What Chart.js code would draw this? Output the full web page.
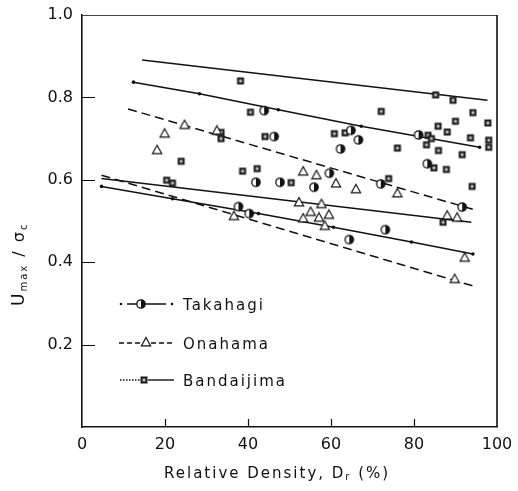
<!DOCTYPE html>
<html>
<head>
<meta charset="utf-8">
<script src="https://cdn.jsdelivr.net/npm/chart.js@4.4.1/dist/chart.umd.min.js"></script>
<style>
    html, body { margin: 0; padding: 0; background: #fff; }
</style>
</head>
<body>
<canvas id="densityChart" width="518" height="491"></canvas>
<script>
// Axis ticks
const xTicks = [0, 20, 40, 60, 80, 100];
const yTicks = [0.2, 0.4, 0.6, 0.8, 1.0];

// Takahagi (half-filled circles)
const takahagiX = [43.9, 46.3, 41.9, 47.7, 55.9, 59.6, 64.8, 66.6, 62.3, 37.7, 40.3, 64.4, 81.1, 83.2, 72.0, 91.6, 73.1];
const takahagiY = [0.768, 0.705, 0.594, 0.594, 0.582, 0.616, 0.720, 0.697, 0.675, 0.535, 0.518, 0.455, 0.709, 0.639, 0.590, 0.534, 0.479];

// Onahama (open triangles)
const onahamaX = [24.7, 19.9, 18.1, 32.5, 53.3, 56.5, 61.2, 66.0, 52.3, 57.7, 55.1, 59.5, 53.3, 57.1, 58.5, 36.6, 76.0, 88.0, 90.4, 92.2, 89.8];
const onahamaY = [0.734, 0.713, 0.673, 0.720, 0.621, 0.612, 0.592, 0.578, 0.546, 0.542, 0.523, 0.516, 0.507, 0.509, 0.489, 0.513, 0.568, 0.514, 0.509, 0.412, 0.360];

// Bandaijima (patterned squares)
const bandaijimaX = [23.9, 20.4, 21.8, 33.5, 33.5, 38.2, 40.6, 44.1, 38.7, 42.2, 50.4, 60.8, 63.4,
    85.2, 89.4, 72.1, 94.2, 97.8, 90.0, 85.8, 88.0, 83.4, 84.2, 83.0, 93.6, 98.0, 98.0, 76.0, 85.9, 91.6, 84.8, 87.8, 94.0, 73.9, 87.0];
const bandaijimaY = [0.645, 0.599, 0.592, 0.715, 0.700, 0.840, 0.764, 0.705, 0.621, 0.627, 0.593, 0.712, 0.714,
    0.806, 0.793, 0.766, 0.763, 0.738, 0.742, 0.730, 0.716, 0.708, 0.700, 0.685, 0.702, 0.696, 0.679, 0.677, 0.671, 0.661, 0.629, 0.625, 0.584, 0.603, 0.497];

// Fitted lines (end points, Takahagi also with its marked dots)
const takahagiUpperX = [12.4, 28.3, 47.3, 67.3, 95.8];
const takahagiUpperY = [0.837, 0.809, 0.770, 0.730, 0.679];
const takahagiLowerX = [4.7, 21.8, 42.5, 60.6, 79.4, 94.2];
const takahagiLowerY = [0.584, 0.554, 0.518, 0.485, 0.449, 0.420];
const onahamaUpperX = [11.1, 95.0];
const onahamaUpperY = [0.772, 0.526];
const onahamaLowerX = [4.7, 95.0];
const onahamaLowerY = [0.611, 0.340];
const bandaijimaUpperX = [14.5, 97.7];
const bandaijimaUpperY = [0.891, 0.793];
const bandaijimaLowerX = [4.7, 93.8];
const bandaijimaLowerY = [0.603, 0.497];

const INK = '#111';
const FONT = '"DejaVu Sans", sans-serif';

function toPoints(xs, ys) {
    return xs.map((x, i) => ({ x: x, y: ys[i] }));
}

// Marker images
function halfCircle() {
    const c = document.createElement('canvas');
    c.width = 12; c.height = 12;
    const g = c.getContext('2d');
    g.beginPath();
    g.arc(6, 6, 4.2, 0, Math.PI * 2);
    g.fillStyle = '#fff';
    g.fill();
    g.beginPath();
    g.arc(6, 6, 4.2, -Math.PI / 2, Math.PI / 2);
    g.closePath();
    g.fillStyle = INK;
    g.fill();
    g.beginPath();
    g.arc(6, 6, 4.2, 0, Math.PI * 2);
    g.lineWidth = 1.3;
    g.strokeStyle = INK;
    g.stroke();
    return c;
}

function openTriangle() {
    const c = document.createElement('canvas');
    c.width = 12; c.height = 12;
    const g = c.getContext('2d');
    g.beginPath();
    g.moveTo(6, 1.5);
    g.lineTo(10.6, 9.8);
    g.lineTo(1.4, 9.8);
    g.closePath();
    g.fillStyle = '#fff';
    g.fill();
    g.lineWidth = 1.2;
    g.strokeStyle = INK;
    g.stroke();
    return c;
}

function hatchedSquare() {
    const c = document.createElement('canvas');
    c.width = 10; c.height = 10;
    const g = c.getContext('2d');
    g.fillStyle = '#1a1a1a';
    g.fillRect(1.5, 1.5, 7, 7);
    g.fillStyle = '#aaa';
    g.fillRect(3.5, 3.5, 3, 3);
    g.fillStyle = '#fff';
    g.fillRect(4.5, 4.5, 1, 1);
    return c;
}

const circleImg = halfCircle();
const triangleImg = openTriangle();
const squareImg = hatchedSquare();

function lineSet(xs, ys, dash, dots) {
    return {
        data: toPoints(xs, ys),
        showLine: true,
        borderColor: INK,
        borderWidth: 1.5,
        borderDash: dash,
        pointRadius: dots ? 1.8 : 0,
        pointBackgroundColor: INK,
        pointBorderWidth: 0,
        order: 2
    };
}

function markerSet(label, xs, ys, img) {
    return {
        label: label,
        data: toPoints(xs, ys),
        showLine: false,
        pointStyle: img,
        pointRadius: 5,
        order: 1
    };
}

// Inward ticks, box frame, legend and axis titles
const framePlugin = {
    id: 'frame',
    afterDatasetsDraw(chart) {
        const ctx = chart.ctx;
        const a = chart.chartArea;
        const xs = chart.scales.x;
        const ys = chart.scales.y;
        ctx.save();
        ctx.strokeStyle = INK;
        ctx.lineWidth = 1.2;
        ctx.beginPath();
        yTicks.slice(0, 4).forEach(v => {
            const py = Math.round(ys.getPixelForValue(v)) + 0.5;
            ctx.moveTo(a.left, py);
            ctx.lineTo(a.left + 13, py);
        });
        xTicks.slice(1, 5).forEach(v => {
            const px = Math.round(xs.getPixelForValue(v)) + 0.5;
            ctx.moveTo(px, a.bottom);
            ctx.lineTo(px, a.bottom - 8);
        });
        ctx.stroke();
        // top and right border
        ctx.lineWidth = 1;
        ctx.strokeStyle = '#444';
        ctx.beginPath();
        ctx.moveTo(a.left, a.top + 0.5);
        ctx.lineTo(a.right, a.top + 0.5);
        ctx.stroke();
        ctx.lineWidth = 1.6;
        ctx.strokeStyle = INK;
        ctx.beginPath();
        ctx.moveTo(a.right, a.top);
        ctx.lineTo(a.right, a.bottom);
        ctx.stroke();
        ctx.restore();
    },
    afterDraw(chart) {
        const ctx = chart.ctx;
        ctx.save();
        ctx.fillStyle = INK;
        ctx.strokeStyle = INK;
        ctx.textBaseline = 'alphabetic';
        ctx.letterSpacing = '2px';

        // Legend
        const rows = [
            { text: 'Takahagi', y: 304 },
            { text: 'Onahama', y: 343 },
            { text: 'Bandaijima', y: 380 }
        ];
        ctx.lineWidth = 1.4;
        // Takahagi sample
        let y = rows[0].y;
        ctx.beginPath();
        ctx.moveTo(127, y); ctx.lineTo(166, y);
        ctx.stroke();
        ctx.beginPath(); ctx.arc(121, y, 1.3, 0, Math.PI * 2); ctx.fill();
        ctx.beginPath(); ctx.arc(172, y, 1.3, 0, Math.PI * 2); ctx.fill();
        ctx.drawImage(circleImg, 141 - 6, y - 6);
        // Onahama sample
        y = rows[1].y;
        ctx.setLineDash([5, 3]);
        ctx.beginPath();
        ctx.moveTo(119, y); ctx.lineTo(173, y);
        ctx.stroke();
        ctx.setLineDash([]);
        ctx.drawImage(triangleImg, 146 - 6, y - 7);
        // Bandaijima sample
        y = rows[2].y;
        ctx.setLineDash([1.5, 1.5]);
        ctx.beginPath();
        ctx.moveTo(120, y); ctx.lineTo(140, y);
        ctx.stroke();
        ctx.setLineDash([]);
        ctx.beginPath();
        ctx.moveTo(148, y); ctx.lineTo(174, y);
        ctx.stroke();
        ctx.drawImage(squareImg, 144 - 5, y - 5);

        ctx.font = '15px ' + FONT;
        ctx.textAlign = 'left';
        rows.forEach(r => ctx.fillText(r.text, 183, r.y + 6));

        // X axis title with subscript
        let x = 164;
        const ty = 478;
        ctx.font = '15px ' + FONT;
        ctx.fillText('Relative Density, D', x, ty);
        x += ctx.measureText('Relative Density, D').width;
        ctx.font = '10px ' + FONT;
        ctx.fillText('r', x, ty + 2);
        x += ctx.measureText('r').width;
        ctx.font = '15px ' + FONT;
        ctx.fillText(' (%)', x, ty);

        // Y axis title, rotated, with subscripts
        ctx.translate(24, 306);
        ctx.rotate(-Math.PI / 2);
        let t = 0;
        const parts = [
            { s: 'U', size: 17, dy: 0 },
            { s: 'max', size: 10, dy: 3 },
            { s: ' / ', size: 16, dy: 0 },
            { s: 'σ', size: 16, dy: 0 },
            { s: 'c', size: 10, dy: 3 }
        ];
        parts.forEach(p => {
            ctx.font = p.size + 'px ' + FONT;
            ctx.fillText(p.s, t, p.dy);
            t += ctx.measureText(p.s).width;
        });
        ctx.restore();
    }
};

new Chart(document.getElementById('densityChart').getContext('2d'), {
    type: 'scatter',
    data: {
        datasets: [
            markerSet('Takahagi', takahagiX, takahagiY, circleImg),
            markerSet('Onahama', onahamaX, onahamaY, triangleImg),
            markerSet('Bandaijima', bandaijimaX, bandaijimaY, squareImg),
            lineSet(takahagiUpperX, takahagiUpperY, [], true),
            lineSet(takahagiLowerX, takahagiLowerY, [], true),
            lineSet(onahamaUpperX, onahamaUpperY, [9, 5], false),
            lineSet(onahamaLowerX, onahamaLowerY, [9, 5], false),
            lineSet(bandaijimaUpperX, bandaijimaUpperY, [], false),
            lineSet(bandaijimaLowerX, bandaijimaLowerY, [], false)
        ]
    },
    options: {
        responsive: false,
        animation: false,
        devicePixelRatio: 1,
        layout: { padding: { top: 15, right: 21, left: 0, bottom: 0 } },
        plugins: {
            legend: { display: false },
            tooltip: { enabled: false }
        },
        scales: {
            x: {
                type: 'linear',
                min: 0,
                max: 100,
                afterBuildTicks: function(scale) {
                    scale.ticks = xTicks.map(v => ({ value: v }));
                },
                afterFit: function(scale) { scale.height = 64; },
                grid: { display: false },
                border: { color: INK, width: 1.6 },
                ticks: {
                    color: INK,
                    padding: 0,
                    maxRotation: 0,
                    font: { family: FONT, size: 16 }
                }
            },
            y: {
                type: 'linear',
                min: 0,
                max: 1,
                afterBuildTicks: function(scale) {
                    scale.ticks = yTicks.map(v => ({ value: v }));
                },
                afterFit: function(scale) { scale.width = 82; },
                grid: { display: false },
                border: { color: INK, width: 1.6 },
                ticks: {
                    color: INK,
                    padding: 1,
                    font: { family: FONT, size: 16 },
                    callback: function(value) { return value.toFixed(1); }
                }
            }
        }
    },
    plugins: [framePlugin]
});
</script>
</body>
</html>
